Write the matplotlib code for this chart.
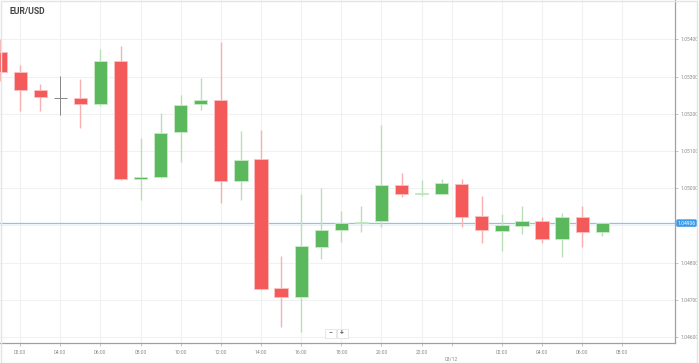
import numpy as np
import pandas as pd
import matplotlib
matplotlib.use("Agg")
import matplotlib.pyplot as plt
import matplotlib.dates as mdates
from matplotlib.patches import Rectangle

# =========================
# data (hourly EUR/USD candles)
# =========================
times = pd.date_range("2022-12-02 01:00", periods=31, freq="h")

opens = [1.05367, 1.05313, 1.05263, 1.05243, 1.05242, 1.05226, 1.05342, 1.05025,
         1.05031, 1.05150, 1.05225, 1.05238, 1.05019, 1.05078, 1.04731, 1.04708,
         1.04842, 1.04887, 1.04905, 1.04912, 1.05008, 1.04983, 1.04984, 1.05012,
         1.04925, 1.04885, 1.04898, 1.04911, 1.04863, 1.04922, 1.04883]
highs = [1.05401, 1.05331, 1.05279, 1.05301, 1.05292, 1.05373, 1.05383, 1.05134,
         1.05201, 1.05249, 1.05297, 1.05394, 1.05154, 1.05156, 1.04818, 1.04984,
         1.04999, 1.04939, 1.04952, 1.05170, 1.05040, 1.05022, 1.05025, 1.05025,
         1.04980, 1.04930, 1.04952, 1.04922, 1.04932, 1.04953, 1.04906]
lows = [1.05289, 1.05208, 1.05208, 1.05197, 1.05161, 1.05221, 1.05022, 1.04968,
        1.05028, 1.05071, 1.05209, 1.04959, 1.04968, 1.04726, 1.04627, 1.04614,
        1.04809, 1.04854, 1.04883, 1.04896, 1.04977, 1.04979, 1.04983, 1.04895,
        1.04852, 1.04832, 1.04877, 1.04852, 1.04816, 1.04842, 1.04871]
closes = [1.05313, 1.05264, 1.05244, 1.05243, 1.05226, 1.05342, 1.05024, 1.05031,
          1.05149, 1.05224, 1.05238, 1.05019, 1.05076, 1.04729, 1.04706, 1.04844,
          1.04887, 1.04905, 1.04910, 1.05008, 1.04984, 1.04988, 1.05014, 1.04923,
          1.04887, 1.04901, 1.04911, 1.04863, 1.04922, 1.04881, 1.04906]

last_price = 1.04906
price_ticks = [1.046, 1.047, 1.048, 1.049, 1.050, 1.051, 1.052, 1.053, 1.054]
time_ticks = ["2022-12-02 02:00", "2022-12-02 04:00", "2022-12-02 06:00", "2022-12-02 08:00",
              "2022-12-02 10:00", "2022-12-02 12:00", "2022-12-02 14:00", "2022-12-02 16:00",
              "2022-12-02 18:00", "2022-12-02 20:00", "2022-12-02 22:00", "2022-12-02 23:30",
              "2022-12-03 02:00", "2022-12-03 04:00", "2022-12-03 06:00", "2022-12-03 08:00"]
time_labels = ["02:00", "04:00", "06:00", "08:00", "10:00", "12:00", "14:00", "16:00",
               "18:00", "20:00", "22:00", "\n03/12", "02:00", "04:00", "06:00", "08:00"]

# =========================
# colours
# =========================
UP = "#5cb85c"
UP_WICK = "#b9e0b9"
DOWN = "#f55a5a"
DOWN_WICK = "#f9b0b0"
FLAT = "#888888"

plt.rcParams["font.family"] = ["Roboto", "DejaVu Sans"]

W, H = 699, 363
fig = plt.figure(figsize=(W / 100, H / 100), dpi=100)
ax = fig.add_axes([0, (H - 343.3) / H, 674.5 / W, 343.3 / H])

x = mdates.date2num(times)
o = np.array(opens)
c = np.array(closes)
hi = np.array(highs)
lo = np.array(lows)
width = 0.66 / 24

up = c > o
down = c < o
flat = c == o

# wicks
ax.vlines(x[up], lo[up], hi[up], color=UP_WICK, lw=1.0, zorder=2)
ax.vlines(x[down], lo[down], hi[down], color=DOWN_WICK, lw=1.0, zorder=2)
ax.vlines(x[flat], lo[flat], hi[flat], color=FLAT, lw=0.7, zorder=2)

# bodies
ax.bar(x[up], (c - o)[up], bottom=o[up], width=width, color=UP,
       edgecolor="#c8ebc8", lw=0.6, zorder=3)
ax.bar(x[down], (o - c)[down], bottom=c[down], width=width, color=DOWN,
       edgecolor="#fbc0c0", lw=0.6, zorder=3)
ax.hlines(o[flat], x[flat] - width / 2, x[flat] + width / 2, color=FLAT, lw=0.7, zorder=3)

# current price line + label
ax.axhline(last_price, color="#8cc3ee", lw=0.9, zorder=1.5)
ax.text(1.0 + 3 / 674.5, last_price, f"{last_price:.5f}", transform=ax.get_yaxis_transform(),
        fontsize=3.6, color="white", va="center", ha="left", zorder=5, clip_on=False,
        bbox=dict(boxstyle="round,pad=0.25,rounding_size=0.3", fc="#3a9ae8", ec="none"))

# axes limits
y_top = 1.054 + 39.3 / 37200
y_bot = 1.054 - (343.3 - 39.3) / 37200
ax.set_ylim(y_bot, y_top)
ax.set_xlim(x[0] - 0.0035 / 24, x[0] + 33.6 / 24)

# y axis on the right
ax.yaxis.tick_right()
ax.set_yticks(price_ticks)
ax.set_yticklabels(["" if abs(p - 1.049) < 1e-9 else f"{p:.5f}" for p in price_ticks])

ax.set_xticks(mdates.date2num(pd.to_datetime(time_ticks)))
ax.set_xticklabels(time_labels)

ax.tick_params(axis="both", labelsize=3.6, labelcolor="#8a8a8a", color="#bbbbbb",
               length=2.5, width=0.6, pad=1.5)
ax.tick_params(axis="x", pad=2.5)

ax.grid(True, color="#f1f1f1", lw=0.8)
ax.set_axisbelow(True)

for side in ["top", "left"]:
    ax.spines[side].set_visible(False)
ax.spines["right"].set_color("#a0a0a0")
ax.spines["bottom"].set_color("#a0a0a0")
ax.spines["right"].set_linewidth(0.9)
ax.spines["bottom"].set_linewidth(0.9)

# title
fig.text(9 / W, 1 - 12 / H, "EUR/USD", fontsize=6.2, fontweight="bold", color="#444444",
         va="center", ha="left")

# zoom buttons (- +)
for bx, sym in [(324.5, "\u2212"), (336.5, "+")]:
    fig.add_artist(Rectangle((bx / W, 1 - 338 / H), 11 / W, 9 / H, transform=fig.transFigure,
                             fc="white", ec="#dddddd", lw=0.5, zorder=6))
    fig.text((bx + 5.5) / W, 1 - 333.5 / H, sym, fontsize=5, fontweight="bold",
             color="#666666", ha="center", va="center", zorder=7)

# outer frame
fig.add_artist(Rectangle((0.5 / W, 0.5 / H), (W - 2.5) / W, (H - 1.5) / H,
                         transform=fig.transFigure, fill=False, ec="#e4e4e4", lw=1.0))

fig.savefig("out.png", dpi=100)
